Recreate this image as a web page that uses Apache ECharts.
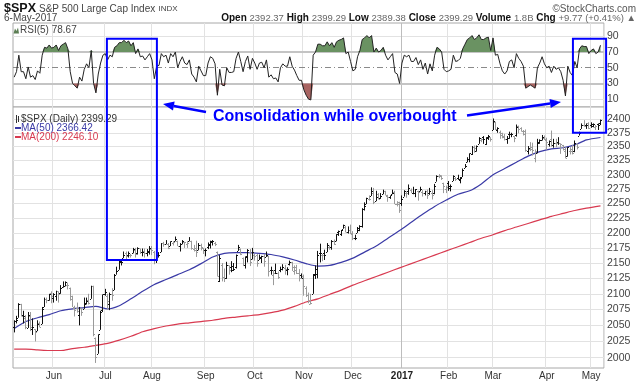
<!DOCTYPE html>
<html><head><meta charset="utf-8">
<script src="https://cdn.jsdelivr.net/npm/echarts@6/dist/echarts.min.js"></script>
<style>html,body{margin:0;padding:0;background:#fff}#c{width:640px;height:382px}</style>
</head><body><div id="c"></div>
<script>
// ---------- calendar ----------
const HOLIDAYS = ['2016-05-30','2016-07-04','2016-09-05','2016-11-24','2016-12-26','2017-01-02','2017-01-16','2017-02-20','2017-04-14'];
function tradingDays(from, to){
  const out=[]; const d=new Date(from+'T00:00:00Z'); const end=new Date(to+'T00:00:00Z').getTime();
  while(d.getTime()<=end){const wd=d.getUTCDay(); const s=d.toISOString().slice(0,10);
    if(wd!==0&&wd!==6&&HOLIDAYS.indexOf(s)<0) out.push(s); d.setUTCDate(d.getUTCDate()+1);}
  return out;
}
const dates = tradingDays('2016-05-06','2017-05-05');

// ---------- daily OHLC (one line per month) ----------
const opens = [
2047,2057,2062,2083,2067,2062,2046,2065,2045,2044,2041,2053,2052,2079,2092,2090,2101,
2094,2097,2104,2101,2111,2113,2115,2109,2092,2077,2078,2067,2078,2076,2085,2090,2092,2113,2031,2006,2043,2074,
2099,2096,2084,2100,2106,2131,2139,2154,2158,2166,2163,2164,2166,2172,2167,2174,2168,2170,2166,2169,
2173,2169,2156,2164,2168,2183,2182,2182,2178,2183,2186,2187,2178,2181,2184,2182,2187,2186,2173,2175,2171,2179,2174,
2171,2177,2181,2185,2183,2169,2120,2146,2127,2125,2146,2143,2145,2144,2170,2173,2159,2147,2161,2169,2156,
2164,2164,2155,2159,2161,2160,2161,2138,2131,2139,2133,2138,2140,2142,2139,2149,2151,2137,2144,2133,2130,
2128,2110,2098,2084,2100,2130,2132,2167,2163,2166,2169,2177,2177,2187,2186,2201,2199,2207,2210,2201,2205,
2200,2191,2200,2208,2211,2241,2249,2258,2263,2269,2254,2266,2260,2267,2271,2263,2261,2266,2270,2250,2252,
2251,2262,2269,2271,2274,2269,2269,2271,2272,2270,2269,2272,2269,2268,2268,2288,2298,2299,2286,2275,
2286,2276,2289,2295,2295,2290,2296,2312,2322,2327,2336,2350,2343,2355,2361,2368,2355,2366,2367,
2380,2395,2380,2376,2371,2370,2363,2372,2372,2369,2371,2387,2384,2378,2379,2343,2345,2350,2330,2339,2357,2361,2366,
2362,2355,2363,2353,2357,2358,2356,2352,2342,2333,2342,2346,2343,2355,2370,2382,2389,2389,2393,
2389,2391,2386,2391,2392];
const highs = [
2058,2065,2085,2084,2073,2066,2071,2071,2061,2044,2058,2056,2079,2094,2094,2100,2104,
2101,2105,2104,2114,2120,2120,2118,2110,2097,2081,2086,2079,2078,2094,2094,2100,2113,2113,2031,2036,2073,2099,
2108,2100,2102,2109,2132,2144,2156,2156,2169,2169,2169,2165,2175,2175,2176,2174,2174,2174,2173,2178,
2178,2170,2164,2168,2183,2185,2188,2183,2186,2186,2194,2187,2183,2188,2185,2186,2193,2187,2180,2187,2183,2182,2175,
2174,2184,2187,2188,2185,2169,2163,2150,2141,2152,2146,2153,2150,2164,2180,2174,2159,2161,2173,2173,2175,
2165,2165,2164,2162,2165,2169,2162,2144,2138,2149,2136,2144,2148,2147,2143,2154,2152,2146,2147,2140,2133,
2131,2112,2102,2100,2132,2146,2170,2182,2165,2172,2183,2179,2188,2189,2198,2204,2205,2214,2212,2211,2214,
2203,2197,2210,2213,2242,2252,2260,2264,2278,2277,2272,2268,2268,2274,2272,2265,2264,2274,2272,2254,2253,
2264,2273,2271,2283,2276,2279,2275,2272,2279,2273,2272,2274,2277,2273,2284,2299,2301,2299,2286,2281,
2289,2283,2299,2296,2300,2296,2311,2319,2331,2338,2351,2352,2352,2367,2365,2369,2367,2371,2367,
2401,2395,2385,2379,2375,2373,2369,2377,2375,2369,2390,2388,2385,2380,2381,2351,2358,2357,2345,2364,2363,2371,2370,
2366,2361,2379,2364,2364,2367,2356,2353,2349,2349,2349,2353,2361,2356,2377,2392,2398,2392,2394,
2394,2392,2389,2392,2399];
const lows = [
2039,2053,2062,2064,2053,2044,2046,2041,2035,2025,2041,2047,2052,2079,2085,2089,2085,
2086,2089,2086,2100,2110,2112,2107,2089,2079,2064,2070,2050,2065,2076,2083,2083,2092,2033,1992,2006,2043,2071,
2097,2075,2074,2089,2106,2131,2139,2146,2158,2156,2159,2159,2166,2159,2164,2165,2161,2159,2161,2164,
2163,2148,2150,2159,2168,2177,2181,2173,2178,2179,2186,2178,2169,2181,2175,2175,2186,2172,2169,2160,2171,2171,2165,
2161,2173,2174,2179,2178,2128,2119,2120,2119,2124,2131,2135,2137,2141,2170,2163,2145,2141,2151,2145,2156,
2154,2144,2155,2150,2144,2160,2128,2131,2114,2132,2124,2135,2138,2131,2130,2146,2137,2131,2132,2120,2125,
2097,2095,2085,2083,2100,2124,2125,2151,2153,2155,2168,2172,2172,2180,2186,2195,2195,2207,2201,2199,2198,
2188,2188,2200,2203,2209,2238,2249,2255,2263,2249,2254,2257,2258,2266,2264,2253,2258,2266,2249,2245,2234,
2246,2262,2260,2265,2268,2266,2261,2255,2271,2262,2264,2258,2265,2257,2266,2288,2294,2291,2268,2268,
2272,2271,2289,2289,2291,2285,2296,2312,2322,2322,2335,2339,2341,2355,2358,2355,2353,2362,2359,
2380,2380,2375,2364,2365,2361,2355,2364,2367,2358,2368,2374,2377,2370,2341,2336,2342,2334,2322,2338,2355,2361,2362,
2344,2350,2350,2348,2349,2353,2337,2343,2329,2332,2336,2336,2340,2345,2370,2382,2386,2382,2382,
2384,2385,2380,2380,2389];
const closes = [
2057,2059,2084,2064,2064,2047,2067,2047,2048,2040,2052,2048,2076,2091,2090,2099,2097,
2099,2105,2099,2109,2112,2119,2115,2096,2079,2075,2072,2078,2071,2083,2089,2085,2113,2037,2001,2036,2071,2099,
2103,2089,2100,2098,2130,2137,2152,2152,2164,2162,2167,2164,2173,2165,2175,2168,2169,2167,2170,2174,
2171,2157,2164,2164,2183,2181,2182,2175,2186,2184,2190,2178,2182,2187,2184,2183,2187,2175,2172,2169,2180,2176,2171,
2171,2180,2186,2186,2181,2128,2159,2127,2126,2147,2139,2139,2140,2163,2177,2165,2146,2160,2171,2151,2168,
2161,2150,2160,2161,2154,2164,2137,2139,2133,2133,2127,2140,2144,2141,2141,2151,2143,2139,2133,2126,2126,
2112,2098,2089,2085,2132,2140,2163,2167,2164,2164,2180,2177,2187,2182,2198,2203,2205,2213,2202,2205,2199,
2191,2192,2205,2212,2241,2246,2260,2257,2272,2253,2262,2258,2263,2271,2265,2261,2264,2269,2250,2249,2239,
2258,2271,2269,2277,2269,2269,2275,2270,2275,2268,2272,2264,2271,2265,2280,2298,2297,2295,2281,2279,
2280,2281,2297,2293,2293,2295,2308,2316,2328,2338,2349,2347,2351,2365,2363,2364,2367,2370,2364,
2396,2382,2383,2375,2368,2363,2365,2373,2373,2365,2385,2381,2378,2373,2344,2348,2346,2344,2342,2359,2361,2368,2363,
2359,2360,2353,2357,2356,2357,2354,2345,2329,2349,2342,2338,2356,2349,2374,2389,2387,2389,2384,
2388,2391,2388,2390,2399];

// ---------- RSI(5) ----------
const rsi = [
38,45,66,45,45,36,51,38,40,35,46,43,66,76,75,79,75,
76,79,72,78,80,82,74,45,30,27,24,38,33,48,55,50,72,30,18,42,56,66,
68,60,66,64,76,78,82,82,85,82,84,78,82,68,74,64,65,60,64,68,
60,36,52,53,68,64,66,56,68,64,70,50,58,64,56,54,60,42,38,32,52,46,40,
40,56,64,62,55,15,48,28,27,50,44,44,45,62,70,58,45,58,65,48,62,
56,48,56,57,50,60,38,41,36,37,32,50,55,52,52,64,52,47,40,34,34,
22,15,10,9,66,70,80,80,78,78,83,78,82,76,83,85,86,88,68,70,58,
46,48,64,72,86,88,91,88,91,70,75,70,72,76,66,60,64,68,44,42,30,
56,66,64,66,58,58,63,54,60,48,56,42,55,46,66,76,74,70,48,45,
46,48,66,58,59,62,74,80,86,88,91,86,88,92,86,86,88,89,72,
88,66,67,55,46,42,46,58,60,50,68,62,58,52,24,26,28,26,24,50,56,64,55,
50,52,44,52,48,50,45,34,14,52,44,40,58,50,74,78,77,77,68,
72,74,68,70,78.67];

// ---------- moving averages (weekly samples) ----------
const maDates = ['2016-05-06','2016-05-13','2016-05-20','2016-05-27','2016-06-06','2016-06-13','2016-06-20','2016-06-27',
 '2016-07-05','2016-07-12','2016-07-19','2016-07-26','2016-08-02','2016-08-09','2016-08-16','2016-08-23','2016-08-30',
 '2016-09-07','2016-09-14','2016-09-21','2016-09-28','2016-10-05','2016-10-12','2016-10-19','2016-10-26','2016-11-02',
 '2016-11-09','2016-11-16','2016-11-23','2016-12-01','2016-12-08','2016-12-15','2016-12-22','2016-12-30','2017-01-09',
 '2017-01-17','2017-01-24','2017-01-31','2017-02-07','2017-02-14','2017-02-22','2017-03-01','2017-03-08','2017-03-15',
 '2017-03-22','2017-03-29','2017-04-05','2017-04-12','2017-04-20','2017-04-27','2017-05-05'];
const ma50 = [2045,2056,2062,2067,2073,2076,2078,2080,2076,2081,2092,2104,2115,2123,2131,2139,2149,
 2160,2166,2167,2167,2166,2164,2160,2155,2149,2145,2146,2151,2158,2168,2178,2191,2204,2218,
 2232,2245,2256,2266,2272,2284,2300,2311,2322,2333,2341,2346,2348,2353,2362,2366.42];
const ma200 = [2013,2013,2012,2011,2011,2014,2016,2019,2022,2027,2033,2040,2045,2049,2052,2054,2056,
 2058,2061,2063,2065,2067,2070,2074,2080,2087,2092,2099,2106,2114,2121,2128,2135,2142,2149,
 2156,2163,2170,2177,2184,2191,2197,2204,2210,2216,2222,2228,2233,2238,2242,2246.10];

// ---------- axes ticks ----------
const priceTicks = [2000,2025,2050,2075,2100,2125,2150,2175,2200,2225,2250,2275,2300,2325,2350,2375,2400];
const rsiTicks = [10,30,50,70,90];
const MONTHS = ['Jan','Feb','Mar','Apr','May','Jun','Jul','Aug','Sep','Oct','Nov','Dec'];

// annotation anchors (category index / RSI / price)
const boxes = [
  {from:39.7, to:61.1, rsiTop:86.8, priceBottom:2155},
  {from:239.2, to:253.4, rsiTop:86.8, priceBottom:2375}
];

// ---------- build ----------
const F = 'Liberation Sans, Arial, sans-serif';
const L = Math.log;
const cats = dates.concat(['']);
const monthStart = cats.map((d,i)=> i>0 && d && dates[i-1].slice(5,7)!==d.slice(5,7));
const gridColors = []; cats.forEach((d,i)=>{ if(monthStart[i]) gridColors.push(d.slice(5,7)==='01' ? '#bdbdbd' : '#e2e2e2'); });

const barData = dates.map((d,i)=>[i, L(opens[i]), L(highs[i]), L(lows[i]), L(closes[i]), (i===0 || closes[i]>=closes[i-1]) ? 1 : 0]);

function xAx(gi, labels){
  return {type:'category', gridIndex:gi, data:cats, boundaryGap:true,
    axisLine:{show:false}, axisTick:{show:false},
    splitLine:{show:true, interval:(i)=>monthStart[i]===true, lineStyle:{color:gridColors, width:1}},
    axisLabel: labels ? {show:true, interval:(i)=>monthStart[i]===true, margin:3, fontFamily:F, fontSize:10, color:'#333',
      formatter:(v)=>{ if(!v) return ''; const m=+v.slice(5,7); return m===1 ? '{y|'+v.slice(0,4)+'}' : MONTHS[m-1]; },
      rich:{y:{fontWeight:'bold', fontFamily:F, fontSize:10, color:'#222'}}} : {show:false}};
}

const chart = echarts.init(document.getElementById('c'), null, {renderer:'canvas'});
chart.setOption({
  animation:false,
  backgroundColor:'#fff',
  grid:[
    {left:13, right:36, top:23, height:84, show:true, borderColor:'#a8a8a8', borderWidth:1, backgroundColor:'#fff'},
    {left:13, right:36, top:107, height:261, show:true, borderColor:'#a8a8a8', borderWidth:1, backgroundColor:'#fff'}
  ],
  xAxis:[xAx(0,false), xAx(1,true)],
  yAxis:[
    {type:'value', gridIndex:0, position:'right', min:0, max:107,
     axisLine:{show:false}, axisTick:{show:false, customValues:rsiTicks},
     axisLabel:{customValues:rsiTicks, margin:3, fontFamily:F, fontSize:10.5, color:'#444'},
     splitLine:{show:true, lineStyle:{color:['#e2e2e2','rgba(0,0,0,0)','rgba(0,0,0,0)','rgba(0,0,0,0)','#e2e2e2']}}},
    {type:'value', gridIndex:1, position:'right', min:L(1984.3), max:L(2422.2),
     axisLine:{show:false}, axisTick:{show:false, customValues:priceTicks.map(L)},
     axisLabel:{customValues:priceTicks.map(L), margin:3, fontFamily:F, fontSize:10.5, color:'#444',
       formatter:(v)=>String(Math.round(Math.exp(v)))},
     splitLine:{show:true, lineStyle:{color:'#e2e2e2'}}}
  ],
  series:[
    {type:'line', name:'obBase', xAxisIndex:0, yAxisIndex:0, stack:'ob', data:rsi.map(()=>70), symbol:'none',
     lineStyle:{width:0, opacity:0}, silent:true, z:1,
     markLine:{silent:true, symbol:'none', label:{show:false}, z:1,
       data:[{yAxis:70, lineStyle:{color:'#c4c4c4', width:2, type:'solid'}},
             {yAxis:30, lineStyle:{color:'#c4c4c4', width:2, type:'solid'}},
             {yAxis:50, lineStyle:{color:'#8a8a8a', width:1, type:[6,3,1,3]}}]}},
    {type:'line', name:'obFill', xAxisIndex:0, yAxisIndex:0, stack:'ob', data:rsi.map(v=>Math.max(v-70,0)), symbol:'none',
     lineStyle:{width:0, opacity:0}, areaStyle:{color:'#6a9262', opacity:1}, silent:true, z:2},
    {type:'line', name:'osBase', xAxisIndex:0, yAxisIndex:0, stack:'os', data:rsi.map(v=>Math.min(v,30)), symbol:'none',
     lineStyle:{width:0, opacity:0}, silent:true, z:1},
    {type:'line', name:'osFill', xAxisIndex:0, yAxisIndex:0, stack:'os', data:rsi.map(v=>30-Math.min(v,30)), symbol:'none',
     lineStyle:{width:0, opacity:0}, areaStyle:{color:'#a86462', opacity:1}, silent:true, z:2},
    {type:'line', name:'RSI(5)', xAxisIndex:0, yAxisIndex:0, data:rsi, symbol:'none',
     lineStyle:{color:'#222', width:1}, z:3, silent:true},
    {type:'custom', name:'$SPX', xAxisIndex:1, yAxisIndex:1, data:barData, clip:true, z:3, silent:true,
     encode:{x:0, y:[1,2,3,4]},
     renderItem:function(params, api){
       const i=api.value(0);
       const pH=api.coord([i,api.value(2)]), pL=api.coord([i,api.value(3)]);
       const pO=api.coord([i,api.value(1)]), pC=api.coord([i,api.value(4)]);
       const px=Math.floor(pH[0]); const x=px+0.5;
       const col=api.value(5)? '#111' : '#9a9a9a';
       const yo=Math.round(pO[1])+0.5, yc=Math.round(pC[1])+0.5;
       return {type:'group', children:[
         {type:'line', shape:{x1:x,y1:pH[1],x2:x,y2:pL[1]}, style:{stroke:col,lineWidth:1}},
         {type:'line', shape:{x1:px-1,y1:yo,x2:px,y2:yo}, style:{stroke:col,lineWidth:1}},
         {type:'line', shape:{x1:px+1,y1:yc,x2:px+2,y2:yc}, style:{stroke:col,lineWidth:1}}
       ]};
     }},
    {type:'line', name:'MA(50)', xAxisIndex:1, yAxisIndex:1, data:maDates.map((d,k)=>[d, L(ma50[k])]), symbol:'none',
     smooth:0.25, lineStyle:{color:'#3a3aa6', width:1.2}, z:2, silent:true},
    {type:'line', name:'MA(200)', xAxisIndex:1, yAxisIndex:1, data:maDates.map((d,k)=>[d, L(ma200[k])]), symbol:'none',
     smooth:0.25, lineStyle:{color:'#d83a50', width:1.2}, z:2, silent:true}
  ]
});

// ---------- annotations & header ----------
function xAt(f){ const a=chart.convertToPixel({xAxisIndex:1},0), b=chart.convertToPixel({xAxisIndex:1},1); return a+(b-a)*f; }
const BLUE='#0000ff';
const g=[];
boxes.forEach(b=>{
  const x1=xAt(b.from), x2=xAt(b.to);
  const y1=chart.convertToPixel({yAxisIndex:0}, b.rsiTop);
  const y2=chart.convertToPixel({yAxisIndex:1}, L(b.priceBottom));
  g.push({type:'rect', shape:{x:x1,y:y1,width:x2-x1,height:y2-y1}, style:{fill:null, stroke:BLUE, lineWidth:2}, z:50});
});
function arrow(x1,y1,x2,y2){
  const dx=x2-x1, dy=y2-y1, len=Math.hypot(dx,dy), ux=dx/len, uy=dy/len, hl=11, hw=4.5;
  const bx=x2-ux*hl, by=y2-uy*hl;
  g.push({type:'line', shape:{x1:x1,y1:y1,x2:bx,y2:by}, style:{stroke:BLUE, lineWidth:2.5}, z:50});
  g.push({type:'polygon', shape:{points:[[x2,y2],[bx-uy*hw,by+ux*hw],[bx+uy*hw,by-ux*hw]]}, style:{fill:BLUE}, z:50});
}
arrow(206,112,163,104);
arrow(467,115.5,561,102);
g.push({type:'text', x:213, y:117, style:{text:'Consolidation while overbought', fill:BLUE, fontFamily:F, fontWeight:'bold', fontSize:16, verticalAlign:'middle'}, z:50});

// header
g.push({type:'text', x:4, y:9, style:{text:'$SPX', fill:'#111', fontFamily:F, fontWeight:'bold', fontSize:12.5, verticalAlign:'middle'}});
g.push({type:'text', x:39, y:9, style:{text:'{a|S&P 500 Large Cap Index} {b|INDX}', fill:'#444', fontFamily:F, verticalAlign:'middle',
  rich:{a:{fontSize:10, fontFamily:F, fill:'#444'}, b:{fontSize:8, fontFamily:F, fill:'#444'}}}});
g.push({type:'text', x:636, y:9, style:{text:'\u00a9StockCharts.com', fill:'#555', fontFamily:F, fontSize:10, align:'right', verticalAlign:'middle'}});
g.push({type:'text', x:4, y:18, style:{text:'6-May-2017', fill:'#444', fontFamily:F, fontSize:10, verticalAlign:'middle'}});
g.push({type:'text', x:636, y:18, style:{
  text:'{b|Open} {v|2392.37} {b|High} {v|2399.29} {b|Low} {v|2389.38} {b|Close} {v|2399.29} {b|Volume} {v|1.8B} {b|Chg} {v|+9.77 (+0.41%) \u25b2}',
  align:'right', verticalAlign:'middle', fontFamily:F, fontSize:10,
  rich:{b:{fontWeight:'bold', fontFamily:F, fontSize:10, fill:'#111'}, v:{fontFamily:F, fontSize:9.5, fill:'#666'}}}});
// RSI legend
g.push({type:'polygon', shape:{points:[[13.5,33.5],[15,28.5],[16.5,31],[18,27.5],[19,33.5]]}, style:{fill:'#5c7e54'}});
g.push({type:'text', x:20, y:30, style:{text:'RSI(5) 78.67', fill:'#444', fontFamily:F, fontSize:10, verticalAlign:'middle'}});
// price legend
g.push({type:'line', shape:{x1:16.5,y1:115,x2:16.5,y2:123}, style:{stroke:'#333', lineWidth:1}});
g.push({type:'line', shape:{x1:18.5,y1:116,x2:18.5,y2:122}, style:{stroke:'#333', lineWidth:1}});
g.push({type:'text', x:21, y:119.5, style:{text:'$SPX (Daily) 2399.29', fill:'#333', fontFamily:F, fontSize:10, verticalAlign:'middle'}});
g.push({type:'line', shape:{x1:15,y1:128,x2:21,y2:128}, style:{stroke:'#3a3aa6', lineWidth:2}});
g.push({type:'text', x:21, y:128.5, style:{text:'MA(50) 2366.42', fill:'#3a3aa6', fontFamily:F, fontSize:10, verticalAlign:'middle'}});
g.push({type:'line', shape:{x1:15,y1:137,x2:21,y2:137}, style:{stroke:'#d83a50', lineWidth:2}});
g.push({type:'text', x:21, y:137.5, style:{text:'MA(200) 2246.10', fill:'#d83a50', fontFamily:F, fontSize:10, verticalAlign:'middle'}});

chart.setOption({graphic:{elements:g}});
</script>
</body></html>
